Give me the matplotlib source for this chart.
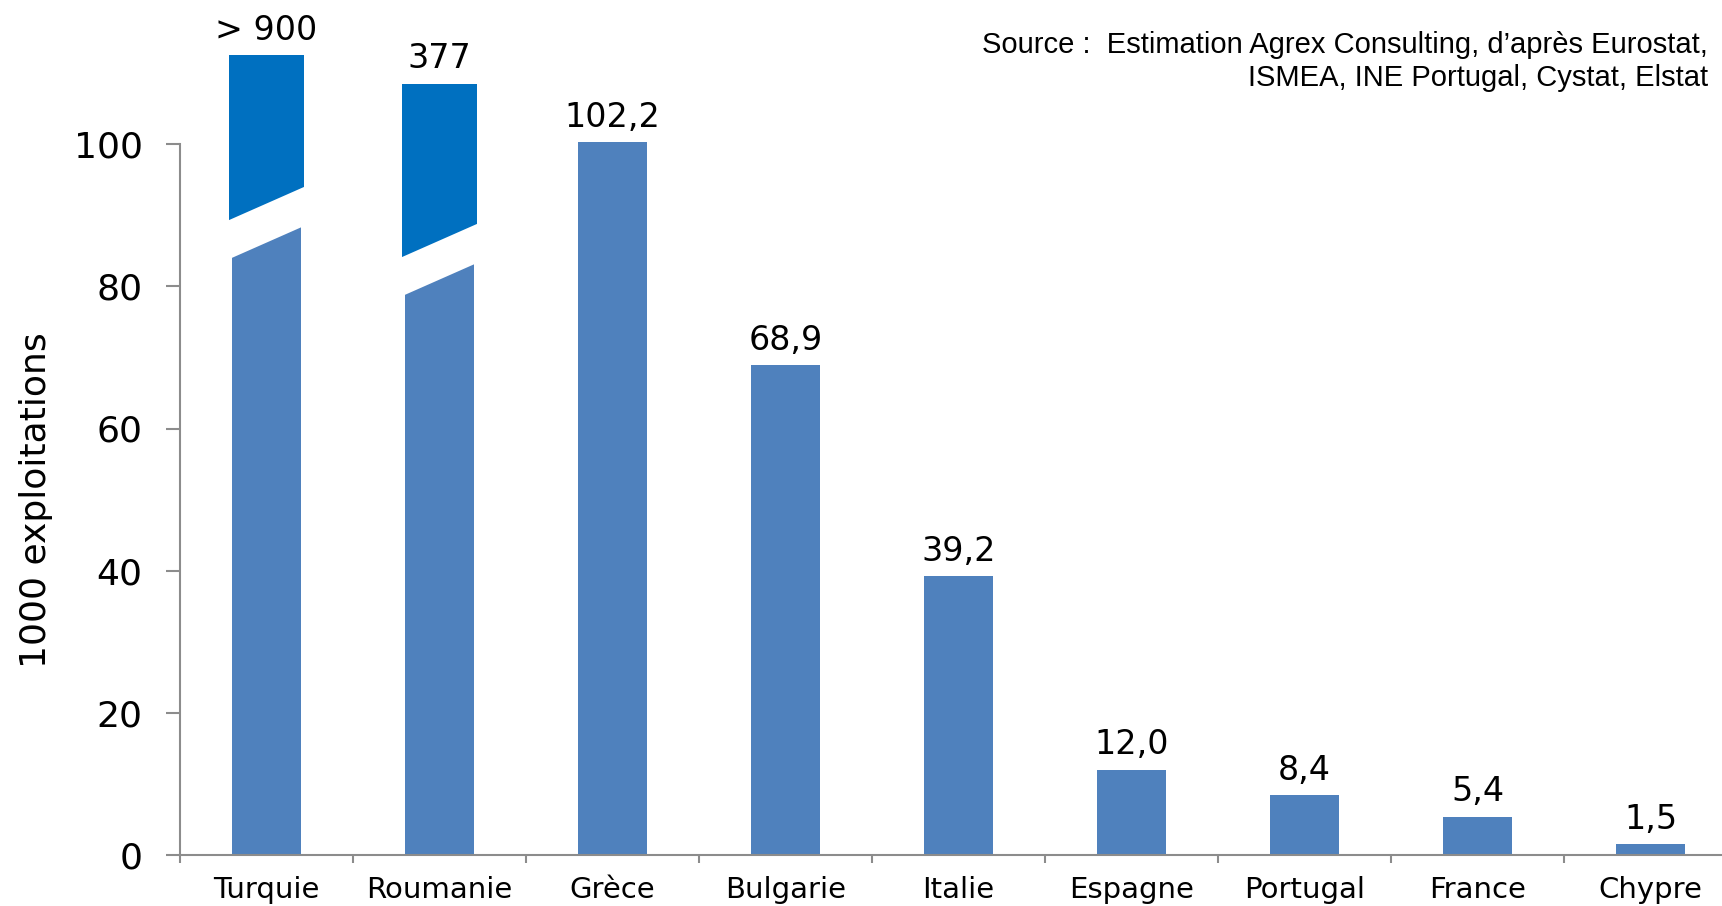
import numpy as np
import matplotlib.pyplot as plt
from matplotlib.ticker import FixedLocator

plt.rcParams['font.family'] = ['DejaVu Sans']

countries = ['Turquie', 'Roumanie', 'Grèce', 'Bulgarie', 'Italie',
             'Espagne', 'Portugal', 'France', 'Chypre']
values = [900, 377, 102.2, 68.9, 39.2, 12.0, 8.4, 5.4, 1.5]
value_labels = ['> 900', '377', '102,2', '68,9', '39,2', '12,0', '8,4', '5,4', '1,5']
# heights actually drawn (axis is cut for the first bars)
drawn = [112.5, 108.5, 100.3, 68.9, 39.2, 12.0, 8.4, 5.4, 1.5]
broken = [0, 1]
break_low = [84.0, 78.8]

low_col = '#4F81BD'
top_col = '#0070C0'
grey = '#8C8C8C'

fig = plt.figure(figsize=(17.22, 9.06), dpi=100)
ax = fig.add_axes([180 / 1722, 51 / 906, 1557 / 1722, 853 / 906])

x = np.arange(len(countries))
ax.bar(x, drawn, width=0.4, color=low_col, zorder=2)

# broken bars: darker top part and a slanted white cut
slope = 4.3 / 0.4
gap = 5.5
for i, b in zip(broken, break_low):
    ax.bar(i, drawn[i] - (b + 5.0), bottom=b + 5.0, width=0.43,
           color=top_col, zorder=3)
    xs = np.array([i - 0.25, i + 0.25, i + 0.25, i - 0.25])
    lo = b + slope * (xs[:2] - (i - 0.2))
    ys = [lo[0], lo[1], lo[1] + gap, lo[0] + gap]
    ax.fill(xs, ys, color='white', zorder=4, lw=0)

for i, lab in enumerate(value_labels):
    ax.annotate(lab, (x[i], drawn[i]), xytext=(0, 6), textcoords='offset points',
                ha='center', va='bottom', fontsize=24, zorder=5)

ax.set_xlim(-0.5, 8.5)
ax.set_ylim(0, 120)
ax.set_yticks(range(0, 101, 20))
ax.set_xticks(x, countries)
ax.xaxis.set_minor_locator(FixedLocator(np.arange(-0.5, 9, 1)))
ax.tick_params(axis='x', which='major', length=0, pad=15, labelsize=21)
ax.tick_params(axis='x', which='minor', length=6, width=1.5, color=grey)
ax.tick_params(axis='y', length=10, width=1.5, color=grey, labelsize=26, pad=17)

for s in ['top', 'right']:
    ax.spines[s].set_visible(False)
for s in ['left', 'bottom']:
    ax.spines[s].set_color(grey)
    ax.spines[s].set_linewidth(1.5)
ax.spines['left'].set_bounds(0, 100)

fig.text(36 / 1722, 1 - 500 / 906, '1000 exploitations', rotation=90,
         ha='center', va='center', fontsize=26)
fig.text(1708 / 1722, 1 - 31 / 906,
         'Source :  Estimation Agrex Consulting, d\u2019après Eurostat,\nISMEA, INE Portugal, Cystat, Elstat',
         ha='right', va='top', fontsize=21, linespacing=1.25,
         family=['Liberation Sans', 'DejaVu Sans'])

fig.savefig('out.png', dpi=100)
